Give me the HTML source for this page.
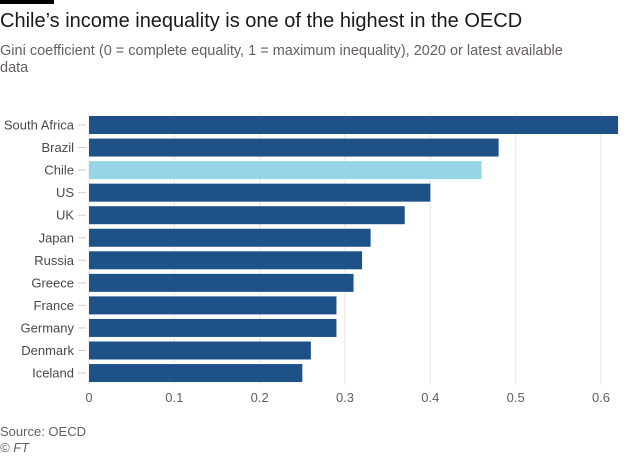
<!DOCTYPE html>
<html><head><meta charset="utf-8"><style>
body{margin:0;background:#fff;font-family:"Liberation Sans",sans-serif;}
#wrap{position:relative;width:638px;height:456px;overflow:hidden;}
</style></head><body>
<div id="wrap">
<div style="position:absolute;left:0;top:0;width:54px;height:4px;background:#000"></div>
<div style="position:absolute;left:0;top:10px;font-size:20px;color:#1a1a1a">Chile’s income inequality is one of the highest in the OECD</div>
<div style="position:absolute;left:0;top:43px;width:590px;font-size:14.5px;line-height:17px;color:#66605c">Gini coefficient (0 = complete equality, 1 = maximum inequality), 2020 or latest available data</div>
<svg id="chart" width="638" height="456" style="position:absolute;left:0;top:0"></svg>
<div style="position:absolute;left:0;top:424px;font-size:13px;color:#66605c">Source: OECD</div>
<div style="position:absolute;left:0;top:440px;font-size:13px;color:#66605c;font-style:italic">© FT</div>
</div>
<script>
const categories=["South Africa","Brazil","Chile","US","UK","Japan","Russia","Greece","France","Germany","Denmark","Iceland"];
const values=[0.62,0.48,0.46,0.40,0.37,0.33,0.32,0.31,0.29,0.29,0.26,0.25];
const tickValues=[0,0.1,0.2,0.3,0.4,0.5,0.6];
const tickLabels=["0","0.1","0.2","0.3","0.4","0.5","0.6"];
const highlight="Chile";
const NS="http://www.w3.org/2000/svg";
const svgEl=document.getElementById('chart');
const x0=89,x1=601,yTop=116,step=22.55,bh=18;
const xs=v=>x0+(x1-x0)*v/0.6;
const ys=i=>yTop+i*step;
function mk(t,a){const e=document.createElementNS(NS,t);for(const k in a)e.setAttribute(k,a[k]);svgEl.appendChild(e);return e;}
tickValues.forEach((v,i)=>{
 const g=mk('line',{x1:xs(v),x2:xs(v),y1:112,y2:385,stroke:'#e6e6e6','stroke-width':1});
 
 
 const t=mk('text',{x:xs(v),y:402,'text-anchor':'middle','font-size':13,fill:'#66605c','font-family':'Liberation Sans, sans-serif'});
 t.textContent=tickLabels[i];
 
 
});
categories.forEach((c,i)=>{
 const yc=ys(i)+bh/2;
 const tk=mk('line',{x1:78,x2:86,y1:yc,y2:yc,stroke:'#ccc','stroke-width':1});
 
 
 const r=mk('rect',{x:x0,y:ys(i),width:xs(values[i])-x0,height:bh,fill:c===highlight?'#96d4e8':'#1f5189'});
 
 
 const t=mk('text',{x:74,y:yc+4.5,'text-anchor':'end','font-size':13,fill:'#4d4845','font-family':'Liberation Sans, sans-serif'});
 t.textContent=c;
 
 
});
</script>
</body></html>
